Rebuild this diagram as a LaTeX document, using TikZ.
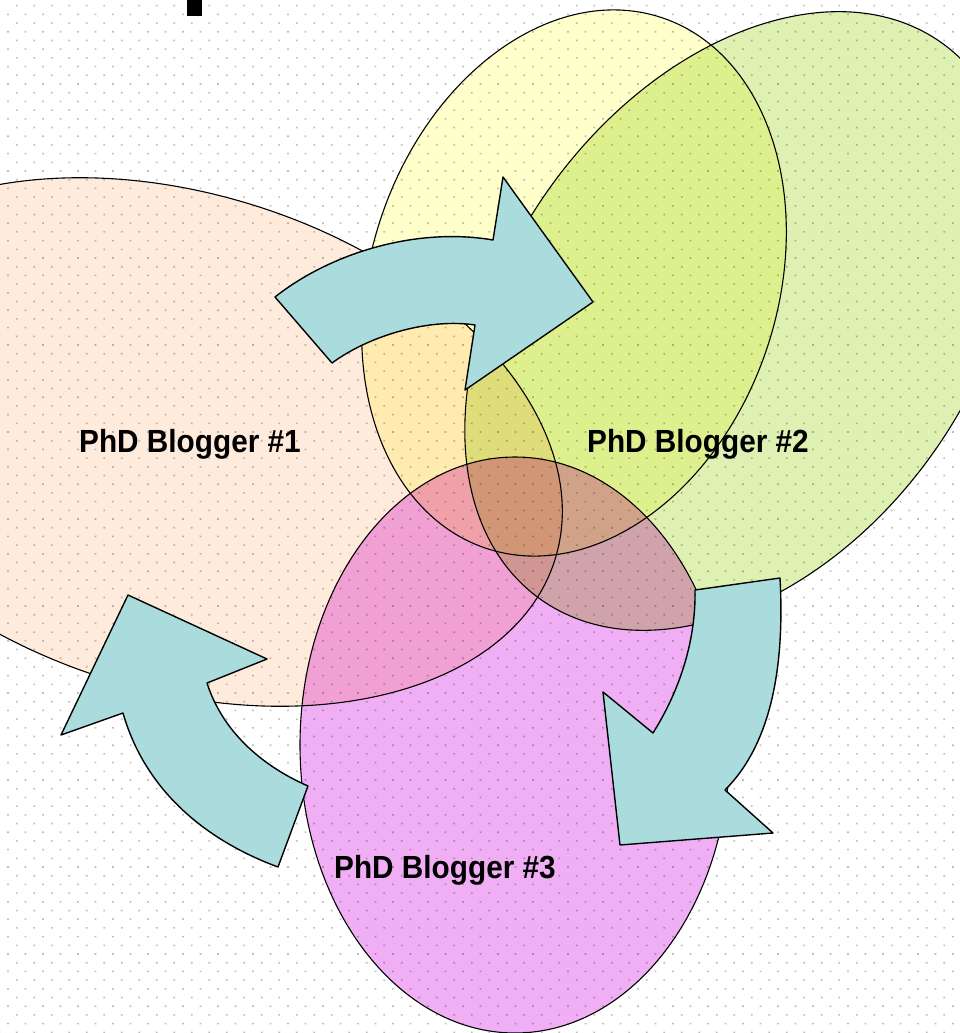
\documentclass[tikz,border=0pt]{standalone}
\usepackage{fontspec}
\setmainfont{Liberation Sans}
\definecolor{peachc}{RGB}{255,235,220}
\definecolor{yellowc}{RGB}{255,255,204}
\definecolor{greenc}{RGB}{222,240,178}
\definecolor{pinkc}{RGB}{240,174,245}
\definecolor{arrowc}{RGB}{170,220,222}
\definecolor{dotc}{RGB}{190,190,190}
\begin{document}
\begin{tikzpicture}[x=1pt,y=-1pt,
  blobfill/.style={blend mode=multiply},
  blobline/.style={draw=black, line width=1.1pt},
  bigarrow/.style={draw=black, fill=arrowc, line width=1.4pt, line join=round},
  blogtext/.style={font=\bfseries\fontsize{32}{32}\selectfont, inner sep=0pt, anchor=base}]
\useasboundingbox (0,0) rectangle (959,1033);
\fill[white] (0,0) rectangle (959,1033);
% dotted grid
\foreach \j in {0,...,118} {
  \pgfmathsetmacro{\yy}{\j*8.7 + 5.7}
  \pgfmathsetmacro{\xo}{mod(\j,2)*8.75 - 0.8}
  \fill[dotc] \foreach \i in {0,...,55} { ({\i*17.5 + \xo - 0.8}, {\yy - 0.8}) rectangle ++(1.6,1.6) };
}
% black bar at top
\fill[black] (187,0) rectangle (202,16);
% ellipse fills
\fill[peachc, blobfill, rotate around={-17.4:(180,442)}] (180,442) ellipse [x radius=393, y radius=248];
\fill[yellowc, blobfill, rotate around={71.8:(574,283)}] (574,283) ellipse [x radius=279.5, y radius=203.7];
\fill[greenc, blobfill, rotate around={53.9:(741,321)}] (741,321) ellipse [x radius=343, y radius=233];
\fill[pinkc, blobfill] (515,745) ellipse [x radius=215, y radius=288];
% ellipse outlines
\draw[blobline, rotate around={-17.4:(180,442)}] (180,442) ellipse [x radius=393, y radius=248];
\draw[blobline, rotate around={71.8:(574,283)}] (574,283) ellipse [x radius=279.5, y radius=203.7];
\draw[blobline, rotate around={53.9:(741,321)}] (741,321) ellipse [x radius=343, y radius=233];
\draw[blobline] (515,745) ellipse [x radius=215, y radius=288];
% top arrow
\draw[bigarrow] (275,297) .. controls (332,252) and (418,227) .. (493,240)
  -- (503,177) -- (593,302) -- (465,390) -- (475,325)
  .. controls (430,318) and (370,335) .. (332,363) -- cycle;
% right arrow
\draw[bigarrow] (780,578) .. controls (785,670) and (770,745) .. (725,790)
  -- (773,833) -- (620,845) -- (603,692) -- (653,733)
  .. controls (680,690) and (696,640) .. (695,590) -- cycle;
% left arrow
\draw[bigarrow] (128,595) -- (267,659) -- (207,683)
  .. controls (222,730) and (260,765) .. (308,786)
  -- (278,867)
  .. controls (205,840) and (145,790) .. (123,713)
  -- (61,735) -- cycle;
% labels
\node[blogtext] (t1) at (190,452) {\scalebox{0.93}[1]{PhD Blogger \#1}};
\node[blogtext] (t2) at (698,452) {\scalebox{0.93}[1]{PhD Blogger \#2}};
\node[blogtext] (t3) at (445,878) {\scalebox{0.93}[1]{PhD Blogger \#3}};
\end{tikzpicture}
\end{document}
